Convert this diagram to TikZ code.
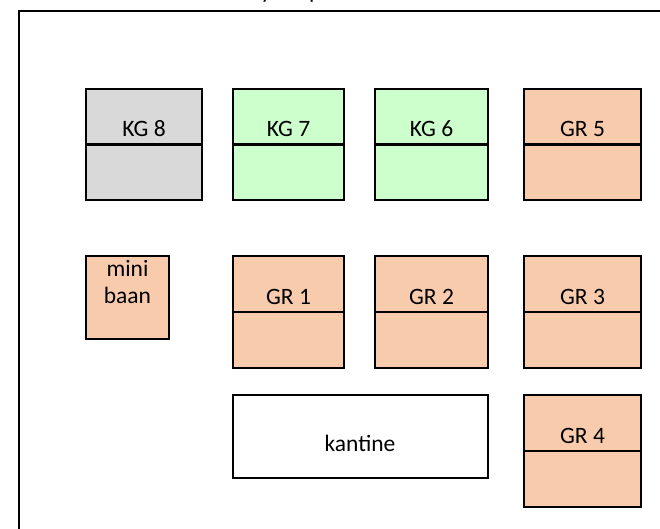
\documentclass[tikz,border=0pt]{standalone}
\usepackage{fontspec}
\setmainfont{Carlito}
\definecolor{kggrey}{HTML}{D9D9D9}
\definecolor{kggreen}{HTML}{CCFFCC}
\definecolor{grpeach}{HTML}{F8CBAD}
\begin{document}
\begin{tikzpicture}[x=1pt,y=-1pt,
  lbl/.style={font=\fontsize{23.5}{27}\selectfont, inner sep=0pt, anchor=base},
  plot/.style={draw=black, line width=2.2pt, anchor=north west, inner sep=0pt, outer sep=0pt},
  divider/.style={draw=black, line width=2.2pt}]
\useasboundingbox (0,0) rectangle (660,529);
\clip (0,0) rectangle (660,529);
% frame and title
\coordinate (fbl) at (19,540);
\coordinate (ftl) at (19,11);
\coordinate (ftr) at (670,11);
\draw[line width=2.2pt] (fbl) -- (ftl) -- (ftr);
\node[lbl] (title) at (296,-1) {Layout park};
% split plots
\foreach \n/\x/\y/\w/\h/\c/\t in {
  kg8/86/89/116/111/kggrey/KG 8,
  kg7/233/89/111/111/kggreen/KG 7,
  kg6/375/89/113/111/kggreen/KG 6,
  gr5/524/89/117/111/grpeach/GR 5,
  gr1/233/256/111/112/grpeach/GR 1,
  gr2/375/256/113/112/grpeach/GR 2,
  gr3/524/256/117/112/grpeach/GR 3,
  gr4/524/395/117/112/grpeach/GR 4}{
  \node[plot, fill=\c, minimum width=\w pt, minimum height=\h pt] (\n) at (\x,\y) {};
  \draw[divider] (\n.west) -- (\n.east);
  \node[lbl] (\n-label) at ([yshift=8pt]\n.center) {\t};
}
% mini baan
\node[plot, fill=grpeach, minimum width=83pt, minimum height=83pt] (mini) at (86,256) {};
\node[lbl] (mini-l1) at (127.5,276) {mini};
\node[lbl] (mini-l2) at (127.5,303) {baan};
% kantine
\node[plot, fill=white, minimum width=255pt, minimum height=83pt] (kantine) at (233,395) {};
\node[lbl] (kantine-label) at (360,451) {kantine};
\end{tikzpicture}
\end{document}
